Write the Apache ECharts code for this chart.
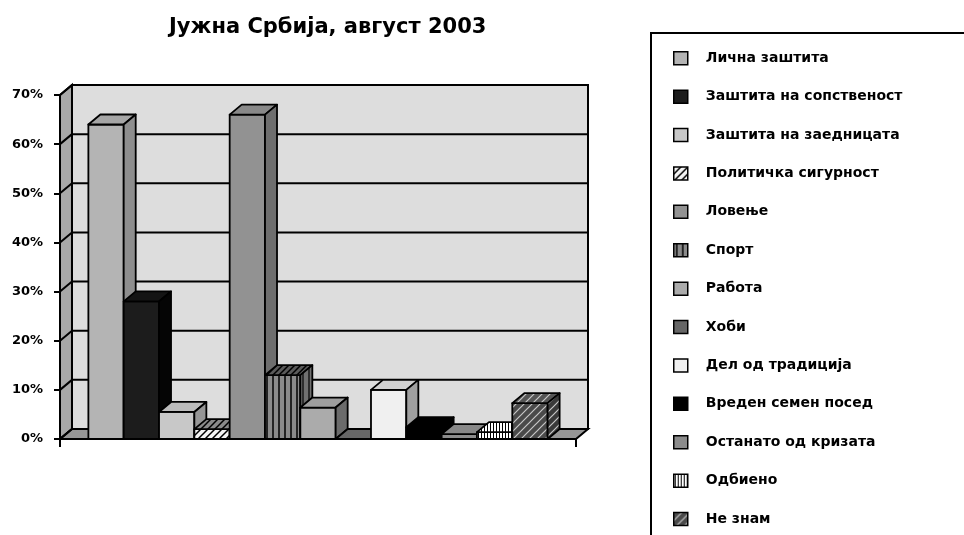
<!DOCTYPE html>
<html>
<head>
<meta charset="UTF-8">
<title>Јужна Србија, август 2003</title>
<script src="https://cdn.jsdelivr.net/npm/echarts@6/dist/echarts.min.js"></script>
<style>
	html,body{margin:0;padding:0;background:#fff;}
	#chart{width:964px;height:535px;}
</style>
</head>
<body>
<div id="chart"></div>
<script>
	// data
	var chartTitle = 'Јужна Србија, август 2003';
	var categories = ['Јужна Србија'];
	var seriesNames = [
		'Лична заштита',
		'Заштита на сопственост',
		'Заштита на заедницата',
		'Политичка сигурност',
		'Ловење',
		'Спорт',
		'Работа',
		'Хоби',
		'Дел од традиција',
		'Вреден семен посед',
		'Останато од кризата',
		'Одбиено',
		'Не знам'
	];
	var seriesValues = [64, 28, 5.5, 2, 66, 13, 6.4, 0, 10, 2.4, 1, 1.4, 7.3];
	var yTicks = [0, 10, 20, 30, 40, 50, 60, 70];

	// 3d look
	var DX = 12, DY = 10;
	var FONT = 'DejaVu Sans';

	function tile(bg, line, kind, step, lw){
		var c = document.createElement('canvas');
		c.width = step; c.height = step;
		var g = c.getContext('2d');
		g.fillStyle = bg;
		g.fillRect(0, 0, step, step);
		g.strokeStyle = line;
		g.lineWidth = lw;
		g.beginPath();
		if(kind === 'diag'){
			g.moveTo(-1, step + 1); g.lineTo(step + 1, -1);
			g.moveTo(-1, 1); g.lineTo(1, -1);
			g.moveTo(step - 1, step + 1); g.lineTo(step + 1, step - 1);
		}else{
			g.moveTo(step / 2, 0); g.lineTo(step / 2, step);
		}
		g.stroke();
		return {image: c, repeat: 'repeat'};
	}

	var faceStyles = [
		{front:'#b4b4b4', top:'#a6a6a6', side:'#8e8e8e'},
		{front:'#1c1c1c', top:'#141414', side:'#050505'},
		{front:'#c8c8c8', top:'#bcbcbc', side:'#969696'},
		{front:tile('#f4f4f4','#000','diag',7,1.5), top:tile('#8a8a8a','#000','diag',7,1.5), side:tile('#777','#000','diag',7,1.5)},
		{front:'#929292', top:'#898989', side:'#6e6e6e'},
		{front:tile('#8a8a8a','#000','vert',6,1.5), top:tile('#5a5a5a','#000','diag',6,1.5), side:tile('#707070','#000','vert',6,1.2)},
		{front:'#ababab', top:'#9e9e9e', side:'#6b6b6b'},
		{front:'#666666', top:'#666666', side:'#4c4c4c'},
		{front:'#f0f0f0', top:'#d0d0d0', side:'#a0a0a0'},
		{front:'#000000', top:'#000000', side:'#000000'},
		{front:'#8c8c8c', top:'#888888', side:'#6e6e6e'},
		{front:tile('#ffffff','#000','vert',3,1), top:tile('#ffffff','#000','vert',3,1), side:tile('#dddddd','#000','vert',3,1)},
		{front:tile('#4a4a4a','#c8c8c8','diag',8,1.2), top:tile('#555555','#c8c8c8','diag',8,1.2), side:tile('#3a3a3a','#c8c8c8','diag',8,1.2)}
	];

	function renderWalls(params, api){
		var cs = params.coordSys;
		var x0 = cs.x, x1 = cs.x + cs.width, yt = cs.y, yb = cs.y + cs.height;
		var edge = {stroke:'#000', lineWidth:2};
		var kids = [
			{type:'polygon', shape:{points:[[x0,yt],[x0+DX,yt-DY],[x0+DX,yb-DY],[x0,yb]]}, style:Object.assign({fill:'#a8a8a8'}, edge)},
			{type:'rect', shape:{x:x0+DX, y:yt-DY, width:cs.width, height:cs.height}, style:Object.assign({fill:'#dddddd'}, edge)},
			{type:'polygon', shape:{points:[[x0,yb],[x0+DX,yb-DY],[x1+DX,yb-DY],[x1,yb]]}, style:Object.assign({fill:'#969696'}, edge)}
		];
		yTicks.forEach(function(t){
			var y = api.coord([0, t])[1];
			kids.push({type:'line', shape:{x1:x0+DX, y1:y-DY, x2:x1+DX, y2:y-DY}, style:edge});
			kids.push({type:'line', shape:{x1:x0, y1:y, x2:x0+DX, y2:y-DY}, style:edge});
		});
		return {type:'group', children:kids};
	}

	function makeBar(i){
		return function(params, api){
			var n = seriesNames.length;
			var base = api.coord([api.value(0), 0]);
			var top = api.coord([api.value(0), api.value(1)]);
			var band = api.size([1, 0])[0];
			var w = band * 0.89 / n;
			var x0 = base[0] - band * 0.89 / 2 + i * w;
			var x1 = x0 + w;
			var yb = base[1], yt = top[1];
			var f = faceStyles[i];
			var line = {stroke:'#000', lineWidth:1.8, lineJoin:'round'};
			return {
				type:'group',
				children:[
					{type:'rect', shape:{x:x0, y:yt, width:w, height:yb-yt}, style:Object.assign({fill:f.front}, line)},
					{type:'polygon', shape:{points:[[x0,yt],[x0+DX,yt-DY],[x1+DX,yt-DY],[x1,yt]]}, style:Object.assign({fill:f.top}, line)},
					{type:'polygon', shape:{points:[[x1,yt],[x1+DX,yt-DY],[x1+DX,yb-DY],[x1,yb]]}, style:Object.assign({fill:f.side}, line)}
				]
			};
		};
	}

	var series = [{
		type:'custom',
		name:'walls',
		z:1,
		silent:true,
		renderItem:renderWalls,
		data:[[0, 0]]
	}];
	seriesNames.forEach(function(name, i){
		series.push({
			type:'custom',
			name:name,
			z:2,
			renderItem:makeBar(i),
			itemStyle:{color:faceStyles[i].front, borderColor:'#000', borderWidth:1.5},
			encode:{x:0, y:1},
			data:[[0, seriesValues[i]]]
		});
	});

	var myChart = echarts.init(document.getElementById('chart'));
	myChart.setOption({
		backgroundColor:'#fff',
		animation:false,
		title:{
			text:chartTitle,
			left:164,
			top:12,
			textStyle:{fontFamily:FONT, fontWeight:'bold', fontSize:21, color:'#000'}
		},
		legend:{
			data:seriesNames,
			orient:'vertical',
			left:673,
			top:51,
			padding:0,
			icon:'rect',
			itemWidth:14,
			itemHeight:13,
			itemGap:23.9,
			selectedMode:false,
			itemStyle:{borderColor:'#000', borderWidth:1.5},
			textStyle:{fontFamily:FONT, fontWeight:'bold', fontSize:14, lineHeight:14, color:'#000', padding:[0,0,0,13]}
		},
		graphic:[{
			type:'rect',
			shape:{x:651, y:33, width:330, height:520},
			style:{fill:'none', stroke:'#000', lineWidth:2},
			z:-1
		}],
		grid:{left:60, right:388, top:95, bottom:96},
		xAxis:{
			type:'category',
			data:categories,
			axisLine:{lineStyle:{color:'#000', width:2}},
			axisTick:{show:true, length:8, lineStyle:{color:'#000', width:2}},
			axisLabel:{show:false},
			z:5
		},
		yAxis:{
			type:'value',
			min:0,
			max:70,
			interval:10,
			axisLine:{show:true, lineStyle:{color:'#000', width:2}},
			axisTick:{show:true, length:6, lineStyle:{color:'#000', width:2}},
			axisLabel:{formatter:'{value}%', margin:17, fontFamily:FONT, fontWeight:'bold', fontSize:13, color:'#000'},
			splitLine:{show:false},
			z:5
		},
		series:series
	});
</script>
</body>
</html>
